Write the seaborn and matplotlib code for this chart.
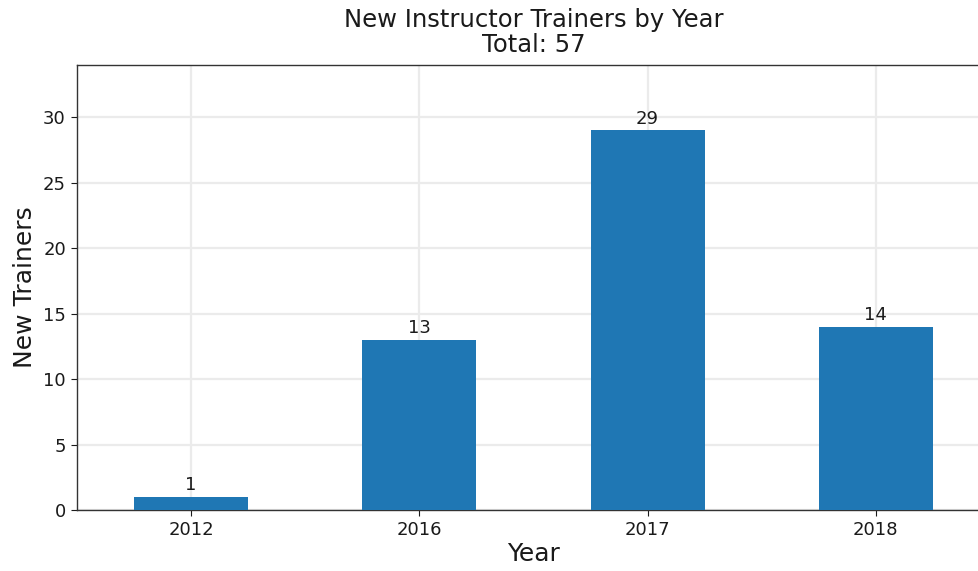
import matplotlib
matplotlib.use("Agg")
import matplotlib.pyplot as plt
import seaborn as sns
import pandas as pd

years = ["2012", "2016", "2017", "2018"]
trainers = [1, 13, 29, 14]

df = pd.DataFrame({"Year": years, "New Trainers": trainers})

sns.set_style("white")
plt.rcParams['font.family'] = ['DejaVu Sans']
plt.rcParams['text.color'] = '#1a1a1a'
plt.rcParams['axes.labelcolor'] = '#1a1a1a'
plt.rcParams['xtick.color'] = '#1a1a1a'
plt.rcParams['ytick.color'] = '#1a1a1a'

fig = plt.figure(figsize=(9.79, 5.71), dpi=100)
ax = fig.add_axes([77 / 979, 61 / 571, 913 / 979, 445 / 571])

sns.barplot(data=df, x="Year", y="New Trainers", color="#1f77b4",
            saturation=1, width=0.5, ax=ax, linewidth=0, zorder=3)

ax.set_xlim(-0.5, 3.5)
ax.set_ylim(0, 34)
ax.set_yticks([0, 5, 10, 15, 20, 25, 30])
ax.grid(True, color="#ebebeb", linewidth=1.6, zorder=0)
ax.set_axisbelow(True)
for s in ax.spines.values():
    s.set_color("#333333")
    s.set_linewidth(1.0)

ax.tick_params(axis="both", labelsize=13, length=4.5, left=True, bottom=True)
ax.set_xlabel("Year", fontsize=18, labelpad=2)
ax.set_ylabel("New Trainers", fontsize=18, labelpad=4)
ax.set_title(f"New Instructor Trainers by Year\nTotal: {sum(trainers)}", fontsize=17.5,
             pad=9, linespacing=1.1)

for i, v in enumerate(trainers):
    ax.text(i, v + 0.2, str(v), ha="center", va="bottom", fontsize=13)

fig.savefig("out.png", dpi=100)
